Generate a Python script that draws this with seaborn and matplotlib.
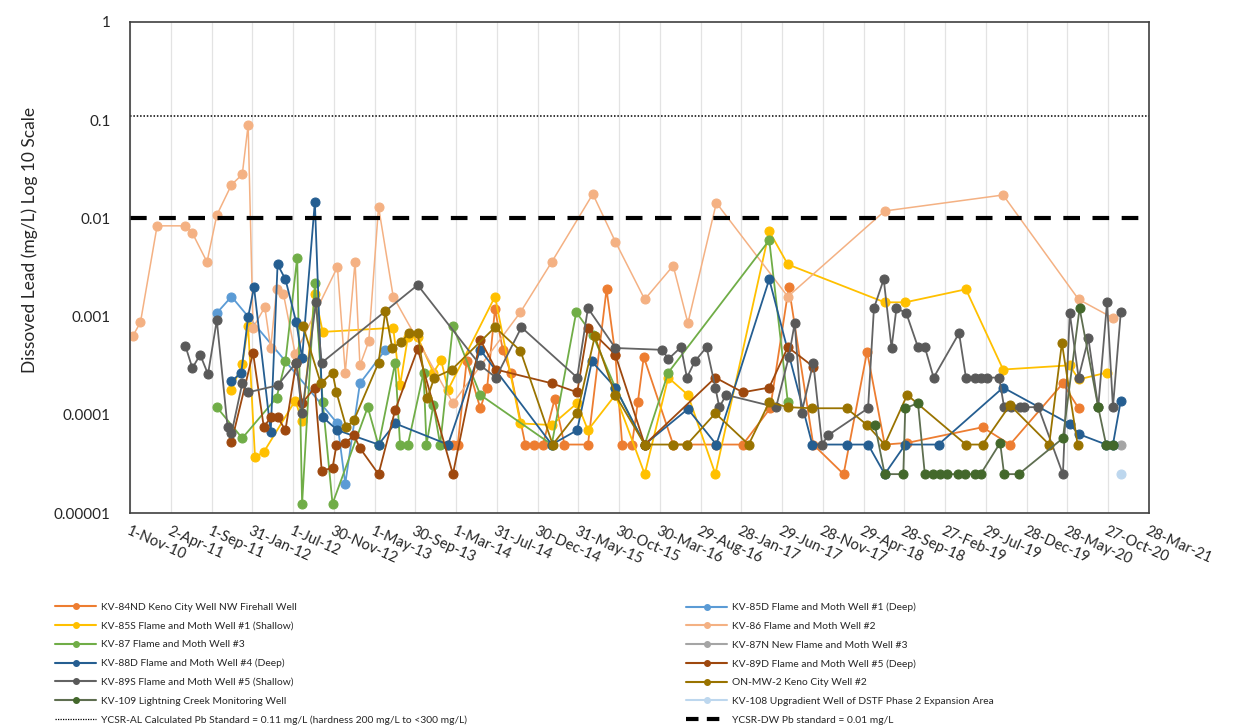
import matplotlib
matplotlib.use("Agg")
import pandas as pd
import matplotlib.pyplot as plt
import seaborn as sns
from matplotlib.lines import Line2D

# dates are decimal years, values are dissolved lead in mg/L
kv84nd_t = [2014.08, 2014.13, 2014.18, 2014.27, 2014.41, 2014.48, 2014.56, 2014.64, 2014.72, 2014.87,
            2014.96, 2015.05, 2015.17, 2015.27, 2015.51, 2015.70, 2015.79, 2015.86, 2015.96, 2016.02,
            2016.08, 2016.38, 2016.52, 2016.82, 2017.09, 2017.37, 2017.56, 2017.81, 2018.12, 2018.36,
            2018.54, 2018.77, 2019.54, 2019.82, 2020.36, 2020.52]
kv84nd_pb = [0.00005, 0.00005, 0.00005, 0.00035, 0.000117, 0.00019, 0.00119, 0.00046, 0.00027, 0.00005,
             0.00005, 0.00005, 0.000145, 0.00005, 0.00005, 0.0019, 0.00041, 0.00005, 0.00005, 0.000135,
             0.00039, 0.00005, 0.00005, 0.00005, 0.00005, 0.000117, 0.0020, 0.00005, 0.000025, 0.00044,
             0.00005, 0.000052, 0.000075, 0.00005, 0.00021, 0.000117]

kv85d_t = [2011.72, 2011.87, 2012.95, 2013.03, 2013.18, 2013.44]
kv85d_pb = [0.00109, 0.0016, 0.000082, 0.000020, 0.00021, 0.00046]

kv85s_t = [2011.87, 2011.98, 2012.04, 2012.11, 2012.20, 2012.52, 2012.59, 2012.72, 2012.80, 2013.52,
           2013.59, 2013.67, 2013.77, 2013.93, 2014.01, 2014.08, 2014.56, 2014.82, 2015.14, 2015.40,
           2015.51, 2015.79, 2016.09, 2016.33, 2016.53, 2016.81, 2017.36, 2017.55, 2018.54, 2018.75,
           2019.37, 2019.75, 2020.43, 2020.52, 2020.81]
kv85s_pb = [0.00018, 0.00033, 0.00080, 0.000037, 0.000042, 0.00014, 0.000087, 0.0017, 0.00070, 0.00077,
            0.00020, 0.00062, 0.00062, 0.00027, 0.00036, 0.00018, 0.0016, 0.000082, 0.000079, 0.000132,
            0.000070, 0.00016, 0.000025, 0.00024, 0.00016, 0.000025, 0.0074, 0.0034, 0.0014, 0.0014,
            0.0019, 0.00029, 0.00032, 0.00023, 0.00027]

kv86_t = [2010.86, 2010.94, 2011.11, 2011.40, 2011.47, 2011.62, 2011.72, 2011.87, 2011.98, 2012.04,
          2012.09, 2012.21, 2012.27, 2012.33, 2012.40, 2012.52, 2012.95, 2013.03, 2013.13, 2013.18,
          2013.27, 2013.37, 2013.52, 2014.13, 2014.82, 2015.14, 2015.56, 2015.79, 2016.09, 2016.38,
          2016.53, 2016.82, 2017.55, 2018.54, 2019.75, 2020.52, 2020.87]
kv86_pb = [0.00063, 0.00088, 0.0084, 0.0084, 0.0071, 0.0036, 0.0108, 0.022, 0.028, 0.089,
           0.00077, 0.00125, 0.00048, 0.0019, 0.0017, 0.00042, 0.0032, 0.00027, 0.0036, 0.00032,
           0.00056, 0.0131, 0.0016, 0.000132, 0.00111, 0.0036, 0.0177, 0.0058, 0.0015, 0.0033,
           0.00086, 0.0144, 0.0016, 0.0119, 0.0173, 0.0015, 0.00097]

kv87_t = [2011.72, 2011.98, 2012.33, 2012.42, 2012.54, 2012.59, 2012.72, 2012.80, 2012.90, 2013.26,
          2013.37, 2013.54, 2013.59, 2013.67, 2013.83, 2013.86, 2013.93, 2014.00, 2014.13, 2014.41,
          2015.14, 2015.39, 2015.56, 2015.79, 2016.09, 2016.33, 2017.36, 2017.55]
kv87_pb = [0.000120, 0.000058, 0.00015, 0.00035, 0.0040, 0.0000125, 0.0022, 0.000135, 0.0000125, 0.000120,
           0.000049, 0.00034, 0.00005, 0.00005, 0.00027, 0.00005, 0.000126, 0.00005, 0.00080, 0.00016,
           0.00005, 0.00111, 0.00065, 0.00019, 0.00005, 0.00027, 0.0060, 0.000135]

kv87n_t = [2020.95]
kv87n_pb = [0.00005]

kv88d_t = [2011.87, 2011.97, 2012.04, 2012.10, 2012.27, 2012.34, 2012.42, 2012.53, 2012.59, 2012.72,
           2012.80, 2012.95, 2013.37, 2013.54, 2014.08, 2014.41, 2015.14, 2015.40, 2015.55, 2015.79,
           2016.09, 2016.53, 2016.82, 2017.36, 2017.80, 2018.15, 2018.37, 2018.54, 2018.75, 2019.09,
           2019.75, 2020.43, 2020.52, 2020.80, 2020.87, 2020.95]
kv88d_pb = [0.00022, 0.00027, 0.00099, 0.0020, 0.000067, 0.0034, 0.0024, 0.00088, 0.00038, 0.0147,
            0.000095, 0.000070, 0.00005, 0.000082, 0.00005, 0.00046, 0.00005, 0.000070, 0.00035, 0.00019,
            0.00005, 0.000115, 0.00005, 0.0024, 0.00005, 0.00005, 0.00005, 0.000025, 0.00005, 0.00005,
            0.00019, 0.000081, 0.000064, 0.00005, 0.00005, 0.00014]

kv89d_t = [2011.87, 2012.09, 2012.20, 2012.27, 2012.34, 2012.42, 2012.53, 2012.59, 2012.72, 2012.79,
           2012.90, 2012.94, 2013.03, 2013.12, 2013.18, 2013.37, 2013.54, 2013.77, 2014.13, 2014.41,
           2014.57, 2015.14, 2015.40, 2015.51, 2015.79, 2016.09, 2016.81, 2017.09, 2017.36, 2017.55,
           2017.81]
kv89d_pb = [0.000053, 0.00043, 0.000075, 0.000095, 0.000095, 0.000070, 0.00034, 0.000132, 0.00019, 0.000027,
            0.000029, 0.000049, 0.000052, 0.000062, 0.000046, 0.000025, 0.000112, 0.00047, 0.000025, 0.00058,
            0.00029, 0.00021, 0.00017, 0.00077, 0.00041, 0.00005, 0.00024, 0.00017, 0.00019, 0.00049,
            0.00031]

kv89s_t = [2011.40, 2011.47, 2011.55, 2011.63, 2011.72, 2011.83, 2011.87, 2011.98, 2012.04, 2012.34,
           2012.53, 2012.59, 2012.73, 2012.79, 2013.77, 2014.41, 2014.57, 2014.83, 2015.40, 2015.51,
           2015.79, 2016.27, 2016.33, 2016.46, 2016.52, 2016.60, 2016.72, 2016.81, 2016.85, 2016.92,
           2017.43, 2017.56, 2017.62, 2017.69, 2017.81, 2017.90, 2017.96, 2018.37, 2018.43, 2018.53,
           2018.61, 2018.66, 2018.76, 2018.88, 2018.95, 2019.04, 2019.30, 2019.37, 2019.46, 2019.52,
           2019.59, 2019.71, 2019.76, 2019.83, 2019.92, 2019.96, 2020.11, 2020.36, 2020.43, 2020.52,
           2020.62, 2020.72, 2020.81, 2020.87, 2020.95]
kv89s_pb = [0.00050, 0.00030, 0.00041, 0.00026, 0.00092, 0.000075, 0.000065, 0.00021, 0.00017, 0.00020,
            0.00034, 0.000104, 0.0014, 0.00034, 0.0021, 0.00032, 0.00024, 0.00078, 0.00024, 0.00122,
            0.00048, 0.00046, 0.00037, 0.00049, 0.00024, 0.00035, 0.00049, 0.00019, 0.000120, 0.00016,
            0.000120, 0.00039, 0.00086, 0.000104, 0.00034, 0.00005, 0.000062, 0.000117, 0.00122, 0.0024,
            0.00048, 0.00122, 0.00109, 0.00049, 0.00049, 0.00024, 0.00068, 0.00024, 0.00024, 0.00024,
            0.00024, 0.00024, 0.000120, 0.000120, 0.000120, 0.000120, 0.000120, 0.000025, 0.00109, 0.00024,
            0.00060, 0.000120, 0.0014, 0.000120, 0.00111]

onmw2_t = [2012.60, 2012.78, 2012.90, 2012.94, 2013.04, 2013.12, 2013.37, 2013.44, 2013.51, 2013.60,
           2013.68, 2013.77, 2013.87, 2013.94, 2014.12, 2014.56, 2014.82, 2015.15, 2015.40, 2015.58,
           2015.79, 2016.09, 2016.38, 2016.52, 2016.81, 2017.15, 2017.36, 2017.55, 2017.80, 2018.15,
           2018.36, 2018.54, 2018.77, 2019.37, 2019.54, 2019.82, 2020.22, 2020.35, 2020.51]
onmw2_pb = [0.00080, 0.00021, 0.00027, 0.00017, 0.000075, 0.000089, 0.00034, 0.00114, 0.00048, 0.00055,
            0.00068, 0.00068, 0.00015, 0.00024, 0.00029, 0.00078, 0.00045, 0.00005, 0.000104, 0.00063,
            0.00016, 0.00005, 0.00005, 0.00005, 0.000104, 0.00005, 0.000135, 0.000120, 0.000117, 0.000117,
            0.000079, 0.00005, 0.00016, 0.00005, 0.00005, 0.000126, 0.00005, 0.00054, 0.00005]

kv109_t = [2018.44, 2018.54, 2018.73, 2018.75, 2018.88, 2018.95, 2019.03, 2019.10, 2019.18, 2019.29,
           2019.36, 2019.46, 2019.52, 2019.72, 2019.76, 2019.91, 2020.36, 2020.53, 2020.72, 2020.80,
           2020.87]
kv109_pb = [0.000079, 0.000025, 0.000025, 0.000117, 0.000132, 0.000025, 0.000025, 0.000025, 0.000025, 0.000025,
            0.000025, 0.000025, 0.000025, 0.000052, 0.000025, 0.000025, 0.000058, 0.00122, 0.000120, 0.00005,
            0.00005]

kv108_t = [2020.95]
kv108_pb = [0.000025]

tick_labels = ["1-Nov-10", "2-Apr-11", "1-Sep-11", "31-Jan-12", "1-Jul-12", "30-Nov-12", "1-May-13",
               "30-Sep-13", "1-Mar-14", "31-Jul-14", "30-Dec-14", "31-May-15", "30-Oct-15", "30-Mar-16",
               "29-Aug-16", "28-Jan-17", "29-Jun-17", "28-Nov-17", "29-Apr-18", "28-Sep-18", "27-Feb-19",
               "29-Jul-19", "28-Dec-19", "28-May-20", "27-Oct-20", "28-Mar-21"]

al_std = 0.11
dw_std = 0.01


def to_dates(years):
    out = []
    for v in years:
        y = int(v)
        start = pd.Timestamp(y, 1, 1)
        out.append(start + (pd.Timestamp(y + 1, 1, 1) - start) * (v - y))
    return out


# name, dates, values, line colour, marker colour, line width
series = [
    ("KV-84ND Keno City Well NW Firehall Well", kv84nd_t, kv84nd_pb, "#ED7D31", "#ED7D31", 1.3),
    ("KV-85D Flame and Moth Well #1 (Deep)", kv85d_t, kv85d_pb, "#5B9BD5", "#5B9BD5", 1.3),
    ("KV-85S Flame and Moth Well #1 (Shallow)", kv85s_t, kv85s_pb, "#FFC000", "#FFC000", 1.3),
    ("KV-86 Flame and Moth Well #2", kv86_t, kv86_pb, "#F4B183", "#F4B183", 1.1),
    ("KV-87 Flame and Moth Well #3", kv87_t, kv87_pb, "#70AD47", "#70AD47", 1.3),
    ("KV-87N New Flame and Moth Well #3", kv87n_t, kv87n_pb, "#A5A5A5", "#A5A5A5", 1.3),
    ("KV-88D Flame and Moth Well #4 (Deep)", kv88d_t, kv88d_pb, "#255E91", "#255E91", 1.3),
    ("KV-89D Flame and Moth Well #5 (Deep)", kv89d_t, kv89d_pb, "#9E480E", "#9E480E", 1.3),
    ("KV-89S Flame and Moth Well #5 (Shallow)", kv89s_t, kv89s_pb, "#636363", "#595959", 1.3),
    ("ON-MW-2 Keno City Well #2", onmw2_t, onmw2_pb, "#997300", "#997300", 1.3),
    ("KV-109 Lightning Creek Monitoring Well", kv109_t, kv109_pb, "#5E6E50", "#43682B", 1.3),
    ("KV-108 Upgradient Well of DSTF Phase 2 Expansion Area", kv108_t, kv108_pb, "#BDD7EE", "#BDD7EE", 1.3),
]

sns.set_style("white")
plt.rcParams["font.family"] = ["Lato", "DejaVu Sans"]

fig = plt.figure(figsize=(12.5, 7.28), dpi=100)
ax = fig.add_axes([0.104, 0.295, 0.815, 0.675])

for name, yrs, vals, lc, mc, lw in series:
    df = pd.DataFrame({"date": to_dates(yrs), "pb": vals})
    sns.lineplot(data=df, x="date", y="pb", ax=ax, color=lc, lw=lw, marker="o", markersize=6.5,
                 markerfacecolor=mc, markeredgecolor=mc, sort=False, estimator=None, legend=False)

ax.axhline(al_std, color="black", lw=1.1, ls=(0, (1, 1.2)))
ax.axhline(dw_std, color="black", lw=3, ls=(0, (4, 3)))

ax.set_yscale("log")
ax.set_ylim(1e-5, 1)
ax.set_yticks([1e-5, 1e-4, 1e-3, 1e-2, 1e-1, 1])
ax.set_yticklabels(["0.00001", "0.0001", "0.001", "0.01", "0.1", "1"], fontsize=11)
ax.minorticks_off()

tick_dates = pd.to_datetime(tick_labels, format="%d-%b-%y")
ax.set_xlim(tick_dates[0], tick_dates[-1])
ax.set_xticks(tick_dates)
ax.set_xticklabels(tick_labels, rotation=-24, ha="left", va="top", rotation_mode="anchor", fontsize=10.5)
ax.tick_params(axis="both", length=0)
ax.tick_params(axis="x", pad=8)
ax.tick_params(axis="y", pad=14)
ax.grid(axis="x", color="#E3E3E3", lw=0.9)
ax.set_axisbelow(True)
for s in ax.spines.values():
    s.set_color("#404040")
    s.set_linewidth(1.2)
ax.set_xlabel("")
ax.set_ylabel("")

fig.text(0.024, 0.67, "Dissoved Lead (mg/L) Log 10 Scale", rotation=90, ha="center", va="center", fontsize=12.5)

left_handles = []
right_handles = []
for i, (name, yrs, vals, lc, mc, lw) in enumerate(series):
    h = Line2D([], [], color=lc, lw=1.5, marker="o", markersize=4, markerfacecolor=mc, markeredgecolor=mc, label=name)
    (left_handles if i % 2 == 0 else right_handles).append(h)
left_handles.append(Line2D([], [], color="black", lw=0.9, ls=(0, (1, 1)),
                           label="YCSR-AL Calculated Pb Standard = 0.11 mg/L (hardness 200 mg/L to <300 mg/L)"))
right_handles.append(Line2D([], [], color="black", lw=3, ls=(0, (3, 2)),
                            label="YCSR-DW Pb standard = 0.01 mg/L"))

common = dict(frameon=False, fontsize=7.4, handlelength=4.0, handletextpad=0.5, labelspacing=0.92,
              loc="upper left", borderaxespad=0, borderpad=0)
fig.legend(handles=left_handles, bbox_to_anchor=(0.044, 0.172), **common)
fig.legend(handles=right_handles, bbox_to_anchor=(0.549, 0.172), **common)

fig.savefig("out.png", dpi=100)
